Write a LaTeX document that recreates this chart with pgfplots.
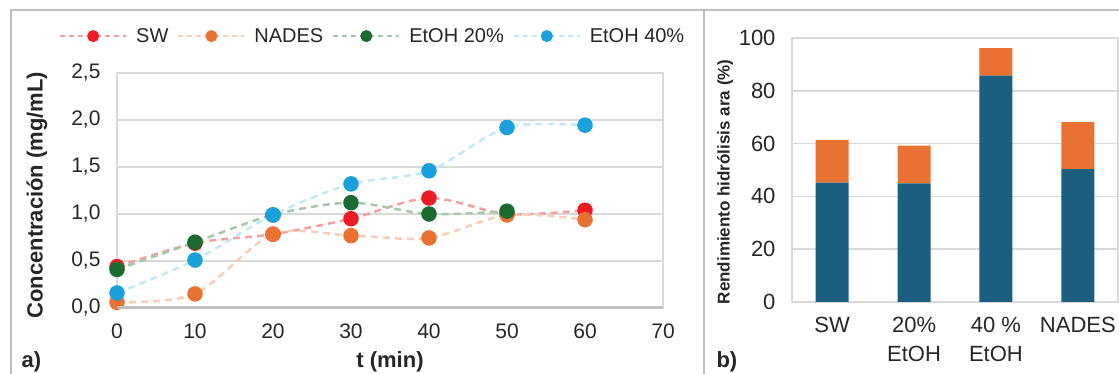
\documentclass[border=0pt]{standalone}
\usepackage{pgfplots}
\pgfplotsset{compat=1.18}
\usepackage{fontspec}
\setmainfont{Liberation Sans}
\definecolor{swM}{RGB}{237,28,36}
\definecolor{swL}{RGB}{242,160,160}
\definecolor{naM}{RGB}{233,113,50}
\definecolor{naL}{RGB}{250,205,180}
\definecolor{e2M}{RGB}{25,107,50}
\definecolor{e2L}{RGB}{165,200,170}
\definecolor{e4M}{RGB}{26,160,218}
\definecolor{e4L}{RGB}{195,232,247}
\definecolor{barB}{RGB}{26,95,128}
\definecolor{barO}{RGB}{233,113,50}
\definecolor{gridc}{RGB}{217,217,217}
\definecolor{framec}{RGB}{191,191,191}
\definecolor{txt}{RGB}{38,38,38}
\begin{document}
\begin{tikzpicture}[x=1pt,y=1pt]
\useasboundingbox (0,0) rectangle (1119,374);
% ---------- left panel ----------
\begin{axis}[
  at={(117pt,66pt)}, anchor=south west, scale only axis,
  width=546pt, height=235pt,
  xmin=0, xmax=70, ymin=0, ymax=2.5,
  xtick={0,10,...,70}, ytick={0,0.5,...,2.5},
  major tick length=0pt,
  ymajorgrids, grid style={gridc, line width=1.5pt},
  axis line style={gridc, line width=1.2pt},
  clip=false,
  /pgf/number format/assume math mode=true,
  tick label style={font=\fontsize{21}{25}\selectfont, text=txt},
  yticklabel style={/pgf/number format/.cd, fixed, fixed zerofill, precision=1, use comma, /tikz/.cd, xshift=-13pt},
  xticklabel style={yshift=-12pt},
  xlabel={\textbf{t (min)}},
  xlabel style={font=\fontsize{22}{26}\selectfont, at={(axis description cs:0.5,-0.23)}, anchor=center, text=txt},
  ylabel={\textbf{Concentración (mg/mL)}},
  ylabel style={font=\fontsize{22}{26}\selectfont, at={(axis description cs:-0.1465,0.48)}, anchor=center, text=txt},
  legend columns=4,
  legend style={at={(axis description cs:-0.1062,1.157)}, anchor=west, draw=none, fill=none, inner sep=0pt,
    font=\fontsize{20}{24}\selectfont, text=txt,
    nodes={inner xsep=0pt},
    /tikz/every odd column/.append style={column sep=9pt},
    /tikz/every even column/.append style={column sep=9pt}},
  legend image code/.code={\draw[mark repeat=2,mark phase=2,#1,line width=2pt,dash pattern=on 5pt off 4pt,mark size=5pt] plot coordinates {(0pt,0pt)(33pt,0pt)(66pt,0pt)};},
  after end axis/.code={\draw[framec, line width=3pt] (rel axis cs:0,0) -- (rel axis cs:1,0);},
]
\addplot[swL, line width=2.5pt, dash pattern=on 7pt off 5pt, smooth, mark=*, mark size=6.5pt, mark options={solid, fill=swM, draw=swM}]
  coordinates {(0,0.44)(10,0.69)(20,0.785)(30,0.95)(40,1.17)(50,1.0)(60,1.04)};
\addlegendentry{SW}
\addplot[naL, line width=2.5pt, dash pattern=on 7pt off 5pt, smooth, mark=*, mark size=6.5pt, mark options={solid, fill=naM, draw=naM}]
  coordinates {(0,0.06)(10,0.15)(20,0.785)(30,0.77)(40,0.745)(50,0.99)(60,0.94)};
\addlegendentry{NADES}
\addplot[e2L, line width=2.5pt, dash pattern=on 7pt off 5pt, smooth, mark=*, mark size=6.5pt, mark options={solid, fill=e2M, draw=e2M}]
  coordinates {(0,0.41)(10,0.70)(20,0.99)(30,1.12)(40,1.0)(50,1.03)};
\addlegendentry{EtOH 20\%}
\addplot[e4L, line width=2.5pt, dash pattern=on 7pt off 5pt, smooth, mark=*, mark size=6.5pt, mark options={solid, fill=e4M, draw=e4M}]
  coordinates {(0,0.16)(10,0.51)(20,0.99)(30,1.32)(40,1.46)(50,1.92)(60,1.945)};
\addlegendentry{EtOH 40\%}
\end{axis}
% ---------- right panel ----------
\begin{axis}[
  at={(792pt,72pt)}, anchor=south west, scale only axis,
  width=326pt, height=264pt,
  ybar stacked, bar width=33pt,
  xmin=-0.49, xmax=3.49, ymin=0, ymax=100,
  xtick={0,1,2,3}, ytick={0,20,...,100},
  xticklabels={SW, 20\%\\EtOH, 40 \%\\EtOH, NADES},
  major tick length=0pt,
  ymajorgrids, grid style={gridc, line width=1.5pt},
  axis line style={gridc, line width=1.2pt},
  /pgf/number format/assume math mode=true,
  tick label style={font=\fontsize{22}{29}\selectfont, text=txt},
  yticklabel style={xshift=-13pt},
  xticklabel style={yshift=-12pt, align=center},
  ylabel={\textbf{Rendimiento hidrólisis ara (\%)}},
  ylabel style={font=\fontsize{17}{20}\selectfont, at={(axis description cs:-0.205,0.455)}, anchor=center, text=txt},
]
\addplot[fill=barB, draw=none] coordinates {(0,45.2)(1,44.9)(2,85.7)(3,50.3)};
\addplot[fill=barO, draw=none] coordinates {(0,16.2)(1,14.3)(2,10.5)(3,17.8)};
\end{axis}
% ---------- panel frames and labels ----------
\draw[framec, line width=1.5pt] (11,0) -- (11,364) -- (1119,364);
\draw[framec, line width=1.5pt] (704,0) -- (704,364);
\node[anchor=west, font=\fontsize{22}{26}\selectfont\bfseries, text=txt] at (18,12) {a)};
\node[anchor=west, font=\fontsize{22}{26}\selectfont\bfseries, text=txt] at (713,12) {b)};
\end{tikzpicture}
\end{document}
